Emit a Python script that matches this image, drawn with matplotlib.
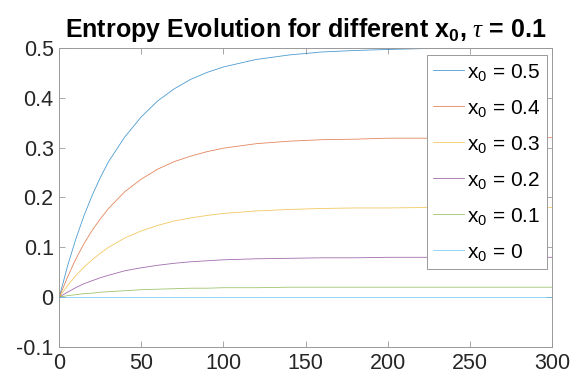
import matplotlib
matplotlib.use("Agg")
import matplotlib.pyplot as plt

plt.rcParams["font.family"] = ["Liberation Sans", "DejaVu Sans"]
plt.rcParams["mathtext.fontset"] = "custom"
plt.rcParams["mathtext.rm"] = "Liberation Sans"
plt.rcParams["mathtext.it"] = "Liberation Serif:italic"
plt.rcParams["mathtext.bf"] = "Liberation Sans:bold"

# time axis (samples)
t = [0, 5, 10, 15, 20, 25, 30, 40, 50, 60, 70, 80, 90, 100,
     120, 140, 160, 180, 200, 225, 250, 275, 300]

# entropy curves, one per initial x0
s_05 = [0, .062, .116, .163, .204, .240, .272, .322, .362, .394, .418, .437,
        .451, .462, .477, .486, .492, .495, .497, .499, .499, .500, .500]
s_04 = [0, .040, .076, .107, .134, .157, .178, .212, .237, .257, .272, .283,
        .292, .299, .308, .313, .316, .317, .319, .319, .320, .320, .320]
s_03 = [0, .023, .043, .060, .075, .088, .100, .119, .133, .144, .153, .159,
        .164, .168, .173, .176, .178, .179, .179, .180, .180, .180, .180]
s_02 = [0, .010, .019, .027, .033, .039, .044, .053, .059, .064, .068, .071,
        .073, .075, .077, .078, .079, .079, .080, .080, .080, .080, .080]
s_01 = [0, .003, .005, .007, .008, .010, .011, .013, .015, .016, .017, .018,
        .018, .019, .019, .020, .020, .020, .020, .020, .020, .020, .020]
s_00 = [0] * len(t)

series = [s_05, s_04, s_03, s_02, s_01, s_00]
labels = ["0.5", "0.4", "0.3", "0.2", "0.1", "0"]
# MATLAB default colour order
colors = ["#0072BD", "#D95319", "#EDB120", "#7E2F8E", "#77AC30", "#4DBEEE"]

fig = plt.figure(figsize=(5.81, 3.79), dpi=100)
ax = fig.add_axes([0.102, 0.0844, 0.848, 0.789])

for s, lab, c in zip(series, labels, colors):
    ax.plot(t, s, color=c, linewidth=0.6, alpha=0.7,
            label=r"x$_{0}$ = " + lab)

ax.set_xlim(0, 300)
ax.set_ylim(-0.1, 0.5)
ax.set_xticks([0, 50, 100, 150, 200, 250, 300])
ax.set_yticks([-0.1, 0, 0.1, 0.2, 0.3, 0.4, 0.5])
ax.set_yticklabels(["-0.1", "0", "0.1", "0.2", "0.3", "0.4", "0.5"])
ax.tick_params(direction="in", top=True, right=True, length=4, width=0.6,
               color="#999999", labelsize=15.5, labelcolor="#262626", pad=4)
for sp in ax.spines.values():
    sp.set_color("#999999")
    sp.set_linewidth(0.7)

ax.set_title(r"Entropy Evolution for different $\mathbf{x_0}$, $\tau$ = 0.1",
             fontsize=18, fontweight="bold", pad=8)

leg = ax.legend(loc="upper right", bbox_to_anchor=(0.99, 0.975), fontsize=15,
                handlelength=1.5, handletextpad=0.15, labelspacing=0.72,
                borderpad=0.3, borderaxespad=0, fancybox=False, framealpha=1)
leg.get_frame().set_edgecolor("#999999")
leg.get_frame().set_linewidth(0.7)

fig.savefig("out.png", dpi=100)
